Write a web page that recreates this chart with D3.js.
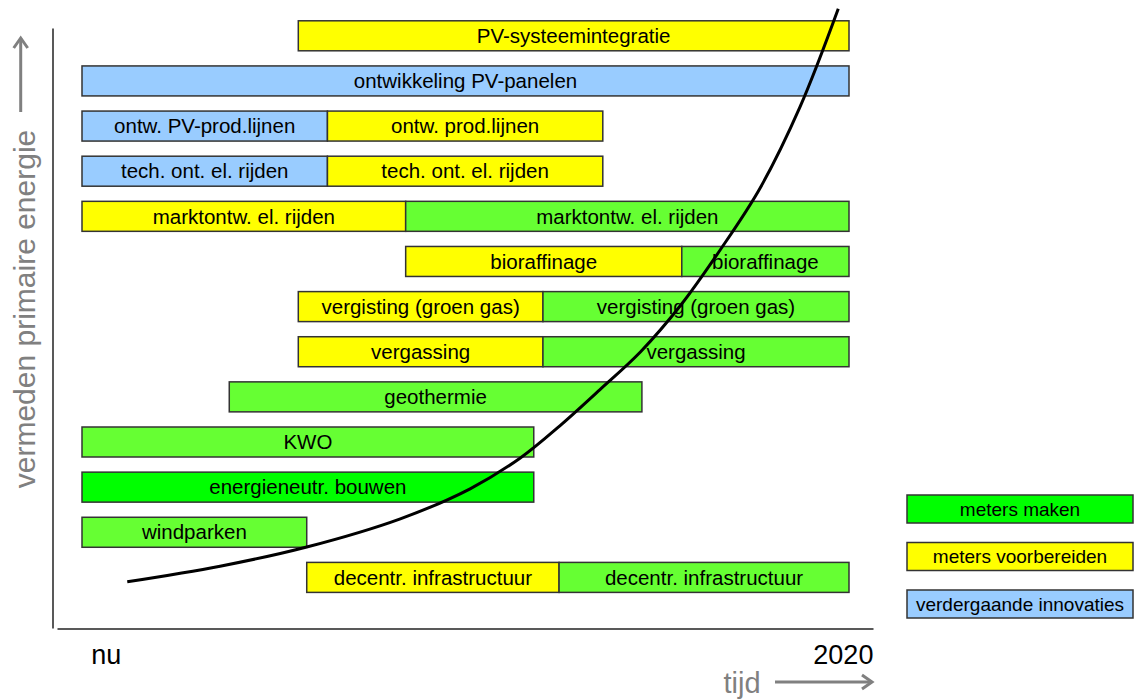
<!DOCTYPE html>
<html>
<head>
<meta charset="utf-8">
<script src="https://cdn.jsdelivr.net/npm/d3@7"></script>
<style>
  html, body { margin: 0; padding: 0; background: #fff; }
  svg { display: block; font-family: "Liberation Sans", Arial, sans-serif; }
</style>
</head>
<body>
<svg id="chart" width="1134" height="699"></svg>
<script>
// Roadmap rows, top to bottom
const rows = [
  "PV-systeemintegratie",
  "ontwikkeling PV-panelen",
  "PV-prod.lijnen",
  "tech. el. rijden",
  "marktontw. el. rijden",
  "bioraffinage",
  "vergisting",
  "vergassing",
  "geothermie",
  "KWO",
  "energieneutr. bouwen",
  "windparken",
  "decentr. infrastructuur"
];

// Segment start/end on the time axis (0 = nu, 100 = 2020)
const segRow   = [0, 1, 2, 2, 3, 3, 4, 4, 5, 5, 6, 6, 7, 7, 8, 9, 10, 11, 12, 12];
const segStart = [28.2, 0, 0, 32.0, 0, 32.0, 0, 42.2, 42.2, 78.2, 28.2, 60.1, 28.2, 60.1, 19.2, 0, 0, 0, 29.3, 62.2];
const segEnd   = [100, 100, 32.0, 67.9, 32.0, 67.9, 42.2, 100, 78.2, 100, 60.1, 100, 60.1, 100, 73.0, 58.9, 58.9, 29.3, 62.2, 100];
const segPhase = ["voorbereiden", "innovatie", "innovatie", "voorbereiden", "innovatie", "voorbereiden",
                  "voorbereiden", "uitrol", "voorbereiden", "uitrol", "voorbereiden", "uitrol",
                  "voorbereiden", "uitrol", "uitrol", "uitrol", "maken", "uitrol", "voorbereiden", "uitrol"];
const segLabel = ["PV-systeemintegratie", "ontwikkeling PV-panelen", "ontw. PV-prod.lijnen", "ontw. prod.lijnen",
                  "tech. ont. el. rijden", "tech. ont. el. rijden", "marktontw. el. rijden", "marktontw. el. rijden",
                  "bioraffinage", "bioraffinage", "vergisting (groen gas)", "vergisting (groen gas)",
                  "vergassing", "vergassing", "geothermie", "KWO", "energieneutr. bouwen", "windparken",
                  "decentr. infrastructuur", "decentr. infrastructuur"];

// Growth of avoided primary energy over time
const curveT = [5.9, 18.0, 29.3, 41.5, 50.6, 57.1, 62.3, 67.5, 72.8, 78.0, 83.2, 88.4, 93.6, 98.6];
const curveE = [7.7, 10.3, 13.5, 18.2, 23.2, 28.3, 33.7, 39.7, 46.0, 53.7, 63.0, 73.3, 86.8, 103.2];

// Legend
const legendKeys   = ["maken", "voorbereiden", "innovatie"];
const legendLabels = ["meters maken", "meters voorbereiden", "verdergaande innovaties"];

// Axis texts
const timeTickValues = [3.1, 99.2];
const timeTickLabels = ["nu", "2020"];
const xTitle = "tijd";
const yTitle = "vermeden primaire energie";

const phaseColor = {
  maken: "#00ff00",
  uitrol: "#66ff33",
  voorbereiden: "#ffff00",
  innovatie: "#99ccff"
};

const svg = d3.select("#chart");

const x = d3.scaleLinear().domain([0, 100]).range([82, 849]);
const y = d3.scaleBand().domain(rows).range([20.8, 592.4]).paddingInner(0.3354).paddingOuter(0);
const yE = d3.scaleLinear().domain([0, 100]).range([628, 28]);

const segments = segRow.map((r, i) => ({
  row: rows[r], start: segStart[i], end: segEnd[i], phase: segPhase[i], label: segLabel[i]
}));

// Axes
const axisX = d3.scaleLinear().domain([x.invert(57), x.invert(873)]).range([57, 873]);
const gx = svg.append("g").attr("transform", "translate(0,628.5)")
  .call(d3.axisBottom(axisX).tickValues(timeTickValues).tickSize(0).tickSizeOuter(0)
    .tickFormat((d, i) => timeTickLabels[i]));
gx.select(".domain").attr("stroke", "#222").attr("stroke-width", 1.5);
gx.selectAll(".tick text").attr("font-size", 27).attr("fill", "#000")
  .attr("font-family", "Liberation Sans, Arial, sans-serif").attr("dy", 0).attr("y", 35);

const gy = svg.append("g").attr("transform", "translate(52.5,0)")
  .call(d3.axisLeft(yE).tickValues([]).tickSizeOuter(0));
gy.select(".domain").attr("stroke", "#222").attr("stroke-width", 1.5);

// Bars
const bars = svg.append("g");
bars.selectAll("rect").data(segments).join("rect")
  .attr("x", d => x(d.start))
  .attr("y", d => y(d.row))
  .attr("width", d => x(d.end) - x(d.start))
  .attr("height", y.bandwidth())
  .attr("fill", d => phaseColor[d.phase])
  .attr("stroke", "#333")
  .attr("stroke-width", 1.5);

bars.selectAll("text").data(segments).join("text")
  .attr("x", d => (x(d.start) + x(d.end)) / 2)
  .attr("y", d => y(d.row) + y.bandwidth() / 2)
  .attr("dy", "0.35em")
  .attr("text-anchor", "middle")
  .attr("font-size", 20.5)
  .attr("fill", "#000")
  .text(d => d.label);

// Growth curve
const curvePts = curveT.map((t, i) => [t, curveE[i]]);
svg.append("path")
  .datum(curvePts)
  .attr("d", d3.line().x(d => x(d[0])).y(d => yE(d[1])).curve(d3.curveCatmullRom.alpha(0.5)))
  .attr("fill", "none")
  .attr("stroke", "#000")
  .attr("stroke-width", 3);

// Axis titles with arrows
const grey = "#808080";
svg.append("text")
  .attr("transform", "translate(35,309) rotate(-90)")
  .attr("text-anchor", "middle")
  .attr("font-size", 30)
  .attr("fill", grey)
  .text(yTitle);

function arrow(x1, y1, x2, y2) {
  const a = Math.atan2(y2 - y1, x2 - x1);
  const L = 10, W = 7;
  const g = svg.append("g").attr("stroke", grey).attr("stroke-width", 3).attr("fill", "none");
  g.append("line").attr("x1", x1).attr("y1", y1).attr("x2", x2).attr("y2", y2);
  const bx = x2 - L * Math.cos(a), by = y2 - L * Math.sin(a);
  const px = -Math.sin(a) * W, py = Math.cos(a) * W;
  g.append("path")
    .attr("d", `M${bx + px},${by + py}L${x2},${y2}L${bx - px},${by - py}`)
    .attr("stroke-linejoin", "miter");
}
arrow(20.7, 112, 20.7, 38);

svg.append("text")
  .attr("x", 742)
  .attr("y", 693)
  .attr("text-anchor", "middle")
  .attr("font-size", 29)
  .attr("fill", grey)
  .text(xTitle);
arrow(775, 682, 872, 682);

// Legend
const lg = svg.append("g");
const ly = d3.scalePoint().domain(legendKeys).range([495, 590]);
lg.selectAll("rect").data(legendKeys).join("rect")
  .attr("x", 907).attr("y", d => ly(d))
  .attr("width", 226).attr("height", 28)
  .attr("fill", d => phaseColor[d])
  .attr("stroke", "#333").attr("stroke-width", 1.5);
lg.selectAll("text").data(legendKeys).join("text")
  .attr("x", 907 + 113).attr("y", d => ly(d) + 14)
  .attr("dy", "0.35em")
  .attr("text-anchor", "middle")
  .attr("font-size", 19)
  .attr("fill", "#000")
  .text((d, i) => legendLabels[i]);
</script>
</body>
</html>
